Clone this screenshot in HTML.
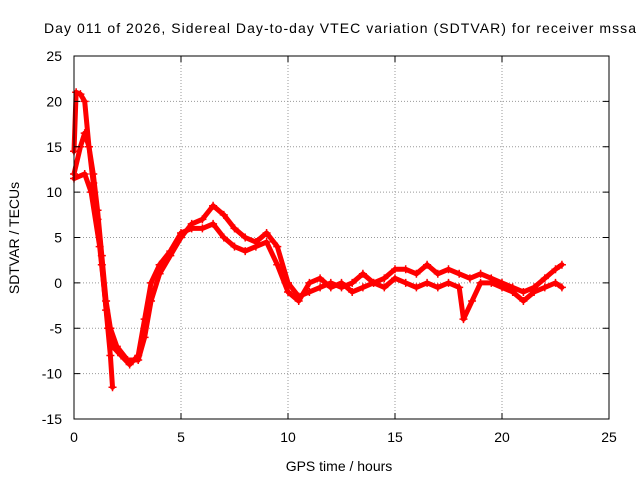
<!DOCTYPE html>
<html><head><meta charset="utf-8"><style>
body{margin:0;background:#fff;}
svg{display:block;font-family:"Liberation Sans",sans-serif;}
</style></head><body>
<svg id="chart" width="640" height="480">
<text x="44" y="33" font-size="14" textLength="592" lengthAdjust="spacing">Day 011 of 2026, Sidereal Day-to-day VTEC variation (SDTVAR) for receiver mssa</text>
<text x="339" y="471" font-size="14" text-anchor="middle">GPS time / hours</text>
<text transform="translate(19,238) rotate(-90)" font-size="14" text-anchor="middle">SDTVAR / TECUs</text>
<g id="grid"></g>
<g id="series"></g>
<rect x="74" y="56" width="535" height="363" fill="none" stroke="#000"/>
<g id="ticks"></g>
</svg>
<script>
const xTicks=[0,5,10,15,20,25];
const yTicks=[-15,-10,-5,0,5,10,15,20,25];
const trackAHours=[0,0.1,0.3,0.5,0.7,0.9,1.1,1.3,1.5,1.7,1.8];
const trackAValues=[14.5,21,20.8,20,15,11,7,2,-3,-8,-11.5];
const trackBHours=[0,0.3,0.5,0.7,0.9,1.1,1.3,1.5,1.7,2,2.5,3,3.3,3.6,4,4.5,5,5.5,6,6.5,7,7.5,8,8.5,9,9.5,10,10.5,11,11.5,12,12.5,13,13.5,14,14.5,15,15.5,16,16.5,17,17.5,18,18.5,19,19.5,20,20.5,21,21.5,22,22.5,22.8];
const trackBValues=[12,15,16.5,15,12,8,3,-2,-5,-7,-8.5,-8.5,-6,-2,1,3,5,6.5,7,8.5,7.5,6,5,4.5,5.5,4,0,-1.5,-1,-0.5,0,-0.5,0,1,0,0.5,1.5,1.5,1,2,1,1.5,1,0.5,1,0.5,0,-0.5,-1,-0.5,0.5,1.5,2];
const trackCHours=[0,0.5,0.8,1.2,1.6,1.8,2.2,2.6,3,3.3,3.6,4,4.5,5,5.5,6,6.5,7,7.5,8,8.5,9,9.5,10,10.5,11,11.5,12,12.5,13,13.5,14,14.5,15,15.5,16,16.5,17,17.5,18,18.2,18.6,19,19.5,20,20.5,21,21.5,22,22.5,22.8];
const trackCValues=[11.5,12,10,4,-5,-7,-8,-9,-8,-4,0,2,3.5,5.5,6,6,6.5,5,4,3.5,4,4.5,2,-1,-2,0,0.5,-0.5,0,-1,-0.5,0,-0.5,0.5,0,-0.5,0,-0.5,0,-0.5,-4,-2,0,0,-0.5,-1,-2,-1,-0.5,0,-0.5];
const X0=74,X1=609,Y0=419,Y1=56;
const xs=v=>X0+(v-0)/(25-0)*(X1-X0);
const ys=v=>Y0-(v+15)/40*(Y0-Y1);
const NS="http://www.w3.org/2000/svg";
const grid=document.getElementById('grid'),ticks=document.getElementById('ticks'),series=document.getElementById('series');
function mk(p,t,a){const e=document.createElementNS(NS,t);for(const k in a)e.setAttribute(k,a[k]);p.appendChild(e);return e;}
xTicks.forEach(t=>{const x=xs(t);
 if(t>0&&t<25){const g=mk(grid,'line',{x1:x,x2:x,y1:Y1,y2:Y0,stroke:'#999','stroke-dasharray':'1,2'});
 }
 const l=mk(ticks,'line',{x1:x,x2:x,y1:Y0,y2:Y0-6,stroke:'#000'});
 const l2=mk(ticks,'line',{x1:x,x2:x,y1:Y1,y2:Y1+6,stroke:'#000'});
 const tx=mk(ticks,'text',{x:x,y:442,'font-size':14,'text-anchor':'middle'});tx.textContent=t;
 });
yTicks.forEach(t=>{const y=ys(t);
 if(t>-15&&t<25){const g=mk(grid,'line',{x1:X0,x2:X1,y1:y,y2:y,stroke:'#999','stroke-dasharray':'1,2'});
 }
 const l=mk(ticks,'line',{x1:X0,x2:X0+6,y1:y,y2:y,stroke:'#000'});
 const l2=mk(ticks,'line',{x1:X1,x2:X1-6,y1:y,y2:y,stroke:'#000'});
 const tx=mk(ticks,'text',{x:62,y:y+5,'font-size':14,'text-anchor':'end'});tx.textContent=t;
 });
function drawTrack(hs,vs,name){
 const pts=hs.map((h,i)=>xs(h)+','+ys(vs[i])).join(' ');
 const pl=mk(series,'polyline',{points:pts,fill:'none',stroke:'#f00','stroke-width':5,'stroke-linejoin':'round','stroke-linecap':'round'});
 
 hs.forEach((h,i)=>{const x=xs(h),y=ys(vs[i]);
  const p=mk(series,'path',{d:`M${x-4},${y}H${x+4}M${x},${y-4}V${y+4}`,stroke:'#f00','stroke-width':1.5});
  });
}
drawTrack(trackAHours,trackAValues,'track-a');
drawTrack(trackBHours,trackBValues,'track-b');
drawTrack(trackCHours,trackCValues,'track-c');
</script>
</body></html>
